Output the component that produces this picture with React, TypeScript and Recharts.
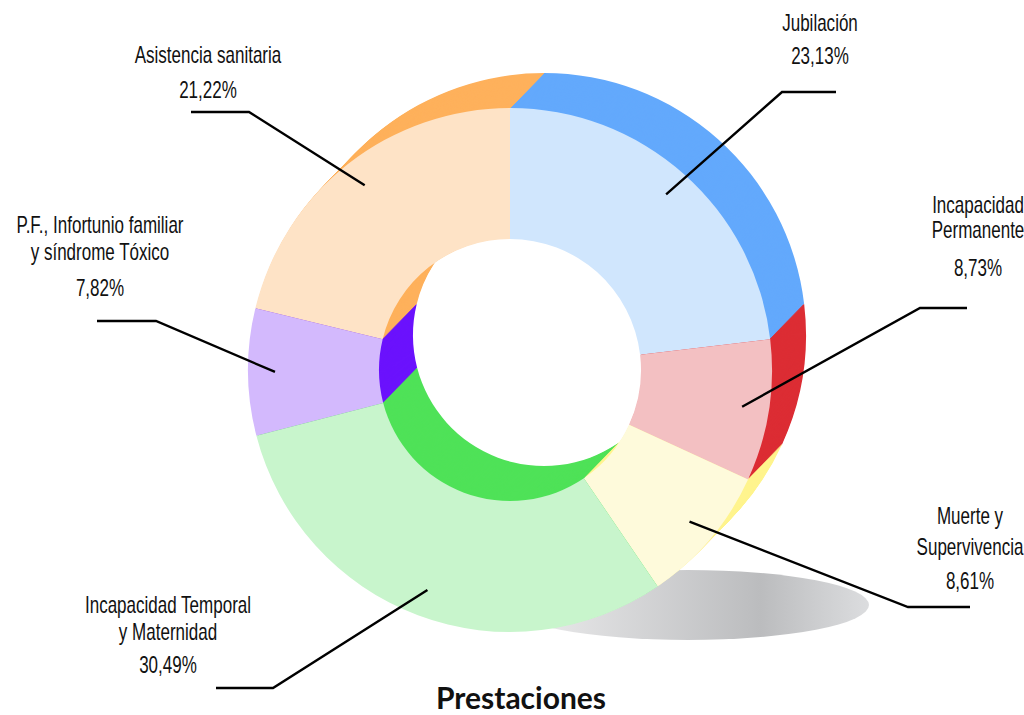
import { Cell, Pie, PieChart } from "recharts"

const categories = [
  "Jubilación",
  "Incapacidad\nPermanente",
  "Muerte y\nSupervivencia",
  "Incapacidad Temporal\ny Maternidad",
  "P.F., Infortunio familiar\ny síndrome Tóxico",
  "Asistencia sanitaria",
]
const shares = [23.13, 8.73, 8.61, 30.49, 7.82, 21.22]

const frontColors = ["#d0e6fd", "#f3c0c2", "#fefadb", "#c8f5cc", "#d3b9fd", "#fee3c6"]
const sideColors = ["#63a9fc", "#dc2d34", "#fff48e", "#4fe258", "#6b12fd", "#feb15c"]

// leader elbows, line ends and text placement, one per slice
const labelLayout = [
  { elbow: [782, 92], endX: 836, tx: 820, ys: [31, 64] },
  { elbow: [920, 308], endX: 967, tx: 978, ys: [213, 238, 276] },
  { elbow: [908, 607], endX: 970, tx: 970, ys: [524, 555, 589] },
  { elbow: [273, 688], endX: 216, tx: 168, ys: [613, 640, 673] },
  { elbow: [156, 321], endX: 97, tx: 100, ys: [233, 260, 296] },
  { elbow: [249, 112], endX: 191, tx: 208, ys: [63, 98] },
]

const data = categories.map((name, i) => ({ name, value: shares[i] }))

const W = 1024
const H = 715
const CX = 510
const CY = 370
const INNER = 131
const OUTER = 262
const DEPTH_X = 34
const DEPTH_Y = -35
const STEPS = 35
const LEADER_R = 235
const FONT = "'Liberation Sans', Arial, sans-serif"
const SQUEEZE = 0.74 // the original face is a condensed one

const fmt = (v: number) => v.toFixed(2).replace(".", ",") + "%"

const renderLabel = (props: any) => {
  const { cx, cy, midAngle, index } = props
  const rad = (-midAngle * Math.PI) / 180
  const sx = cx + LEADER_R * Math.cos(rad)
  const sy = cy + LEADER_R * Math.sin(rad)
  const l = labelLayout[index]
  const lines = [...categories[index].split("\n"), fmt(shares[index])]
  return (
    <g key={`lbl-${index}`}>
      <polyline
        points={`${sx},${sy} ${l.elbow[0]},${l.elbow[1]} ${l.endX},${l.elbow[1]}`}
        fill="none"
        stroke="#000"
        strokeWidth={2.4}
      />
      {lines.map((t, j) => (
        <text
          key={j}
          x={0}
          y={0}
          transform={`translate(${l.tx},${l.ys[j]}) scale(${SQUEEZE},1)`}
          textAnchor="middle"
          fontFamily={FONT}
          fontSize={23}
          fill="#111"
        >
          {t}
        </text>
      ))}
    </g>
  )
}

// side layers, from the back towards the front face
const layers = Array.from({ length: STEPS }, (_, i) => STEPS - i)

export default function App() {
  return (
    <div style={{ position: "absolute", left: 0, top: 0, width: W, height: H, background: "#fff" }}>
      <svg width={W} height={H} style={{ position: "absolute", left: 0, top: 0 }}>
        <defs>
          <linearGradient id="shadow" x1="0" y1="0" x2="1" y2="0">
            <stop offset="0" stopColor="#efeff0" />
            <stop offset="0.7" stopColor="#bbbcbe" />
            <stop offset="1" stopColor="#dcdddf" />
          </linearGradient>
        </defs>
        <ellipse cx={688} cy={605} rx={181} ry={35} fill="url(#shadow)" />
      </svg>
      <PieChart width={W} height={H} margin={{ top: 0, right: 0, bottom: 0, left: 0 }}>
        {layers.map((k) => (
          <Pie
            key={`side-${k}`}
            data={data}
            dataKey="value"
            nameKey="name"
            cx={CX + (DEPTH_X * k) / STEPS}
            cy={CY + (DEPTH_Y * k) / STEPS}
            innerRadius={INNER}
            outerRadius={OUTER}
            startAngle={90}
            endAngle={-270}
            stroke="none"
            isAnimationActive={false}
          >
            {data.map((_, i) => (
              <Cell key={i} fill={sideColors[i]} stroke="none" />
            ))}
          </Pie>
        ))}
        <Pie
          data={data}
          dataKey="value"
          nameKey="name"
          cx={CX}
          cy={CY}
          innerRadius={INNER}
          outerRadius={OUTER}
          startAngle={90}
          endAngle={-270}
          stroke="none"
          label={renderLabel}
          labelLine={false}
          isAnimationActive={false}
        >
          {data.map((_, i) => (
            <Cell key={i} fill={frontColors[i]} stroke="none" />
          ))}
        </Pie>
      </PieChart>
      <div
        style={{
          position: "absolute",
          left: 0,
          width: W,
          top: 679,
          textAlign: "center",
          paddingLeft: 18,
          boxSizing: "border-box",
          fontFamily: "Lato, 'Open Sans', sans-serif",
          fontWeight: 700,
          fontSize: 30,
          lineHeight: "36px",
          color: "#111",
        }}
      >
        Prestaciones
      </div>
    </div>
  )
}
